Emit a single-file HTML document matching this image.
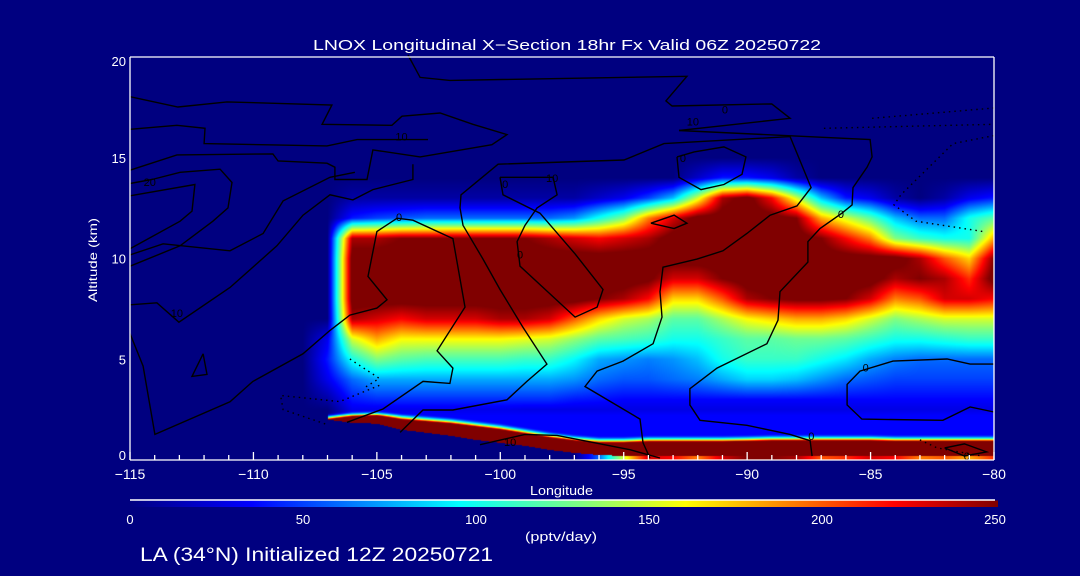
<!DOCTYPE html>
<html><head><meta charset="utf-8"><style>
html,body{margin:0;padding:0;background:#000080;width:1080px;height:576px;overflow:hidden}
#wrap{position:relative;width:1080px;height:576px}
canvas,svg{position:absolute;left:0;top:0}
text{font-family:"Liberation Sans",sans-serif;fill:#fff}
</style></head><body>
<div id="wrap">
<canvas id="cv" width="1080" height="576"></canvas>
<svg id="sv" width="1080" height="576">
<defs><linearGradient id="cbar" x1="0" x2="1" y1="0" y2="0">
<stop offset="0" stop-color="#000080"/><stop offset="0.14" stop-color="#0000ff"/><stop offset="0.38" stop-color="#00ffff"/><stop offset="0.52" stop-color="#80ff80"/><stop offset="0.64" stop-color="#ffff00"/><stop offset="0.88" stop-color="#ff0000"/><stop offset="1" stop-color="#800000"/></linearGradient></defs>
<text x="313" y="50" font-size="15" textLength="508" lengthAdjust="spacingAndGlyphs">LNOX Longitudinal X−Section 18hr  Fx Valid 06Z 20250722</text>
<text transform="translate(97,260) rotate(-90)" text-anchor="middle" font-size="12" textLength="84" lengthAdjust="spacingAndGlyphs">Altitude (km)</text>
<text x="530" y="495" font-size="13" textLength="63" lengthAdjust="spacingAndGlyphs">Longitude</text>
<rect x="130" y="500.5" width="868" height="6.5" fill="url(#cbar)"/>
<line x1="130" y1="500" x2="995" y2="500" stroke="#fff" stroke-width="1.5"/>
<text x="525" y="541" font-size="13" textLength="72" lengthAdjust="spacingAndGlyphs">(pptv/day)</text>
<text x="140" y="561" font-size="19" textLength="353" lengthAdjust="spacingAndGlyphs">LA (34°N) Initialized 12Z 20250721</text>
<g id="contours"></g>
<g id="axes"></g>
</svg>
</div>
<script>
// ---- heatmap data (LNOX, pptv/day) ----
const lons=[-115,-108,-107,-106,-105,-104,-103,-102,-101,-100,-99,-98,-97,-96,-95,-94,-93,-92,-91,-90,-89,-88,-87,-86,-85,-84,-83,-82,-81,-80];
const alts=[2.5,3,4,5,6,7,8,9,10,11,12,13,14,15];
const r25=[0,0,0,30,30,30,30,30,30,30,28,28,28,28,28,28,28,28,28,28,28,28,28,28,28,28,28,28,28,28];
const r3=[0,0,10,40,45,45,45,45,45,45,45,45,40,38,35,35,35,35,35,35,35,35,35,35,35,35,35,35,35,35];
const r4=[0,0,30,60,75,75,75,75,75,75,75,75,70,60,55,55,60,65,75,85,85,80,70,60,55,50,50,50,50,50];
const r5=[0,0,40,100,130,120,115,115,115,115,110,110,95,75,70,65,70,80,100,110,110,110,100,90,75,65,60,60,60,60];
const r6=[0,0,30,150,180,160,160,160,160,160,155,150,135,120,115,110,100,100,110,120,120,125,125,120,110,100,100,105,110,110];
const r7=[0,0,0,240,230,220,230,230,230,240,240,230,200,170,150,140,120,120,140,160,170,180,180,170,150,130,140,150,150,150];
const r8=[0,0,0,260,260,260,260,260,260,260,260,260,260,250,240,220,170,170,200,240,250,255,255,250,230,190,200,230,230,220];
const r9=[0,0,0,260,260,260,260,260,260,260,260,260,260,260,260,255,230,230,250,260,260,260,260,260,260,240,250,240,210,260];
const r10=[0,0,0,260,260,260,260,260,260,260,260,260,260,260,260,260,260,260,260,260,260,260,260,260,260,260,240,200,170,250];
const r11=[0,0,0,240,240,250,250,250,250,250,250,240,230,220,230,240,260,260,260,260,260,260,250,220,190,130,110,100,100,180];
const r12k=[0,0,0,40,50,55,60,60,60,60,60,60,70,100,130,190,230,260,260,260,260,250,180,150,120,80,60,60,100,120];
const r13=[0,0,0,10,10,10,10,10,10,10,10,10,10,20,30,50,80,150,240,260,220,150,80,40,30,10,0,10,30,40];
const r14=[0,0,0,0,0,0,0,0,0,0,0,0,0,0,0,0,0,20,40,40,30,10,0,0,0,0,0,0,0,0];
const r15=[0,0,0,0,0,0,0,0,0,0,0,0,0,0,0,0,0,0,0,0,0,0,0,0,0,0,0,0,0,0];
const grid=[r25,r3,r4,r5,r6,r7,r8,r9,r10,r11,r12k,r13,r14,r15];
// low-level (surface) LNOX band: lower / upper edge altitude (km), value below band, background above band
const bandLo=[2,2,2.0,1.85,1.8,1.5,1.35,1.2,1.0,0.85,0.7,0.5,0.35,0.25,0.2,0.18,0.18,0.18,0.18,0.18,0.18,0.18,0.18,0.18,0.18,0.18,0.18,0.18,0.18,0.18];
const bandHi=[2,2,2.0,2.15,2.2,2.0,1.9,1.8,1.65,1.5,1.3,1.1,0.95,0.85,0.85,0.9,0.9,0.9,0.9,0.92,0.95,0.95,0.95,0.95,0.95,0.92,0.92,0.92,0.92,0.92];
const bandBelow=[0,0,0,0,0,0,0,0,0,0,0,0,0,60,150,230,220,190,230,250,250,240,200,210,230,220,190,200,180,210];
const bandBg=[0,0,0,30,35,35,35,35,35,35,35,35,35,35,35,35,35,35,35,35,35,35,35,35,35,35,35,35,35,35];
const bandPeak=260;

// ---- axis tick data ----
const xMajor=[-115,-110,-105,-100,-95,-90,-85,-80];
const xLabels=["−115","−110","−105","−100","−95","−90","−85","−80"];
const yMajor=[0,5,10,15,20];
const yLabels=["0","5","10","15","20"];
const cbValues=[0,50,100,150,200,250];

// ---- contour data (lon, alt pairs) ----
const cA=[[-115,18.03],[-113.06,17.52],[-111.07,17.77],[-106.82,17.62],[-107.22,16.66],[-104.39,16.61],[-103.98,17.06],[-102.44,17.22],[-101.11,16.66],[-99.73,16.15],[-100.34,15.65],[-103.25,15.04],[-105.16,15.39],[-105.4,13.92],[-106.7,13.92],[-106.7,14.53],[-107.02,14.73],[-109,14.84],[-109.21,15.19],[-113.1,15.14],[-115,14.38]];
const cB=[[-115,16.41],[-113.1,16.61],[-111.96,16.46],[-112,15.7],[-107.02,15.59],[-105.8,15.9],[-102.93,15.9]];
const cC=[[-115,13.72],[-114.11,13.92],[-112.97,14.28],[-111.35,14.43],[-110.87,13.77],[-111.03,12.51],[-111.64,11.85],[-112.97,10.63],[-115,9.62]];
const cD=[[-115,13.11],[-112.37,13.67],[-112.49,12.35],[-112.97,11.85],[-115,10.48]];
const cE=[[-115,10.18],[-113.66,10.73],[-110.95,10.38],[-109.61,11.24],[-108.8,12.86],[-106.9,14.03],[-105.89,14.28]];
const cF=[[-115,7.7],[-113.91,7.8],[-113.02,6.84],[-110.95,8.56],[-109.05,10.63],[-107.99,12.15],[-106.9,13.16],[-105.97,12.91],[-105.16,13.42],[-103.54,13.92],[-103.54,14.68]];
const cG=[[-115,6.28],[-114.47,4.66],[-113.99,1.27],[-110.95,2.89],[-110.02,3.9],[-107.99,5.27],[-106.9,6.43],[-106.09,7.19],[-105,7.54],[-104.59,7.95],[-105.36,9.11],[-105,11.34],[-104.18,12.0],[-103.54,11.9],[-101.92,10.99],[-101.43,7.59],[-102.56,5.42],[-101.92,4.56],[-102.04,3.8],[-103.13,3.9],[-104.75,2.53],[-106.21,1.87]];
const cH=[[-100.01,14.03],[-97.86,14.03],[-97.7,13.16],[-98.51,12.51],[-99,11.65],[-99.32,10.84],[-99.2,9.62],[-96.97,7.09],[-96.08,7.59],[-95.84,8.46],[-96.97,10.23],[-98.39,12.25],[-99.89,13.16],[-100.01,14.03]];
const cI=[[-104.06,1.37],[-103.13,2.48],[-101.92,2.48],[-99.73,2.99],[-98.92,3.9],[-98.11,4.76],[-99.08,6.58],[-100.01,8.46],[-100.7,9.97],[-101.51,11.65],[-101.63,12.51],[-101.59,13.16],[-100.09,14.68],[-94.99,14.89],[-93.37,15.7],[-88.26,16.05],[-87.41,13.52],[-87.98,12.61],[-89.07,12.15],[-90.01,11.24],[-90.98,10.38],[-92.03,9.97],[-93.41,9.57],[-93.53,8.35],[-93.45,7.09],[-93.81,5.77],[-95.03,4.91],[-96.08,4.41],[-96.57,3.65],[-94.34,2.03],[-94.22,0.86],[-93.94,0.1]];
const cJ=[[-92.76,16.35],[-85.02,15.9],[-84.94,15.04],[-85.14,14.53],[-85.71,13.52],[-85.75,12.66],[-86.16,12.25],[-87.05,11.49],[-87.54,10.84],[-87.54,9.82],[-88.67,8.35],[-88.75,6.94],[-89.2,5.77],[-91.22,4.56],[-92.32,3.54],[-92.32,2.73],[-91.91,1.97],[-90.01,1.72],[-88.26,1.27],[-87.45,0.96],[-87.37,0.2]];
const cK=[[-103.74,20.1],[-103.25,18.99],[-102.04,18.84],[-92.44,19.04],[-93.29,17.82],[-93.04,17.57],[-89,17.67],[-88.26,16.96],[-92.76,16.35]];
const cL=[[-92.84,15.04],[-92.76,14.03],[-91.87,13.42],[-90.94,13.67],[-90.21,14.18],[-90.05,15.04],[-90.94,15.54],[-92.15,15.29],[-92.84,15.04]];
const cM=[[-93.9,11.75],[-92.96,12.15],[-92.44,11.75],[-92.96,11.49],[-93.9,11.75]];
const cN=[[-80,4.76],[-80.97,4.76],[-81.9,5.01],[-84.09,4.91],[-85.43,4.41],[-85.95,3.75],[-85.95,2.73],[-85.35,2.03],[-82.07,1.97],[-80.97,2.63],[-80,2.38]];
const cO=[[-100.82,0.76],[-99,1.27],[-97.7,1.22],[-94.75,0.51],[-93.53,0.1]];
const cP=[[-112.04,5.27],[-112.49,4.15],[-111.88,4.25],[-112.04,5.27]];
const cQ=[[-82,0.6],[-81.2,0.8],[-80.3,0.4],[-81.2,0.2],[-82,0.6]];
const solidContours=[cA,cB,cC,cD,cE,cF,cG,cH,cI,cJ,cK,cL,cM,cN,cO,cP,cQ];
const dA=[[-84.94,16.96],[-80,17.47]];
const dB=[[-86.89,16.46],[-80,16.66]];
const dC=[[-80,16.1],[-81.66,15.7],[-83.77,13.16],[-84.05,12.66],[-83.16,11.85],[-80.45,11.34]];
const dD=[[-106.09,5.01],[-104.9,4.05],[-105.56,3.54]];
const dE=[[-104.9,3.7],[-106.5,2.9],[-108.9,3.2],[-108.8,2.5],[-107.0,1.75]];
const dF=[[-83,1.0],[-82.3,0.6],[-80.5,0.2]];
const dottedContours=[dA,dB,dC,dD,dE,dF];
const labelText=["20","10","10","0","0","0","10","10","0","0","0","0","10","0","0"];
const labelLon=[-114.2,-104,-113.1,-104.1,-99.8,-99.2,-97.9,-92.2,-92.6,-90.9,-86.2,-85.2,-99.6,-87.4,-81.1];
const labelAlt=[13.8,16.05,7.3,12.05,13.7,10.2,14.0,16.8,15.0,17.4,12.2,4.6,0.9,1.2,0.2];

// ---- axes ----
const L=130,R=994,T=57,B=460;
function X(lon){return L+(lon+115)*(R-L)/35;}
function Y(alt){return B-alt*(B-T)/20;}
const NS="http://www.w3.org/2000/svg";

const cstops=[[0,0,0,128],[0.14,0,0,255],[0.38,0,255,255],[0.52,128,255,128],[0.64,255,255,0],[0.88,255,0,0],[1,128,0,0]];
function cmap(v){let t=Math.max(0,Math.min(1,v/250));for(let i=0;i<cstops.length-1;i++){const a=cstops[i],b=cstops[i+1];if(t<=b[0]){const f=(t-a[0])/(b[0]-a[0]);return [a[1]+(b[1]-a[1])*f,a[2]+(b[2]-a[2])*f,a[3]+(b[3]-a[3])*f];}}return [128,0,0];}
function idx(arr,v){if(v<=arr[0])return [0,0];if(v>=arr[arr.length-1])return [arr.length-2,1];for(let i=0;i<arr.length-1;i++){if(v<=arr[i+1])return [i,(v-arr[i])/(arr[i+1]-arr[i])];}}
function lerpArr(arr,i,f){return arr[i]*(1-f)+arr[i+1]*f;}
function gridVal(lon,alt){const [i,fx]=idx(lons,lon),[j,fy]=idx(alts,alt);
const a=grid[j][i],b=grid[j][i+1],c=grid[j+1][i],d=grid[j+1][i+1];return (a*(1-fx)+b*fx)*(1-fy)+(c*(1-fx)+d*fx)*fy;}
function lowVal(lon,alt){const [i,f]=idx(lons,lon);const lo=lerpArr(bandLo,i,f),hi=lerpArr(bandHi,i,f),bg=lerpArr(bandBg,i,f),bl=lerpArr(bandBelow,i,f);
 const w=hi-lo;
 if(w<=0.005)return bg*Math.min(1,alt/2);
 if(alt<lo)return bl;
 if(alt<=hi)return bandPeak;
 const d=alt-hi;const k=Math.max(0,1-d/0.35);return bg+(bandPeak-bg)*k*k;}
function val(lon,alt){if(alt>alts[alts.length-1])return 0;if(alt>=2.5)return gridVal(lon,alt);
 const lv=lowVal(lon,alt);if(alt>2.2){const f=(alt-2.2)/0.3;return lv*(1-f)+gridVal(lon,2.5)*f;}return lv;}
(function(){const cv=document.getElementById('cv'),ctx=cv.getContext('2d');const w=R-L,h=B-T;const img=ctx.createImageData(w,h);
for(let py=0;py<h;py++){const alt=(B-(T+py+0.5))*20/(B-T);for(let px=0;px<w;px++){const lon=-115+(px+0.5)*35/w;const c=cmap(val(lon,alt));const k=(py*w+px)*4;img.data[k]=c[0];img.data[k+1]=c[1];img.data[k+2]=c[2];img.data[k+3]=255;}}
ctx.putImageData(img,L,T);})();

const cg=document.getElementById('contours');
function pts(c){return c.map(p=>X(p[0]).toFixed(1)+','+Y(p[1]).toFixed(1)).join(' ');}
solidContours.forEach(c=>{const pl=document.createElementNS(NS,'polyline');pl.setAttribute('points',pts(c));pl.setAttribute('fill','none');pl.setAttribute('stroke','#000');pl.setAttribute('stroke-width','1.4');


cg.appendChild(pl);});
dottedContours.forEach(c=>{const pl=document.createElementNS(NS,'polyline');pl.setAttribute('points',pts(c));pl.setAttribute('fill','none');pl.setAttribute('stroke','#000');pl.setAttribute('stroke-width','1.4');pl.setAttribute('stroke-dasharray','1.5 4');


cg.appendChild(pl);});
labelText.forEach((t,i)=>{const tx=document.createElementNS(NS,'text');tx.setAttribute('x',X(labelLon[i]));tx.setAttribute('y',Y(labelAlt[i])+4);tx.setAttribute('font-size','11');tx.setAttribute('text-anchor','middle');tx.setAttribute('style','fill:#000');tx.textContent=t;


cg.appendChild(tx);});

const ag=document.getElementById('axes');
function line(x1,y1,x2,y2,name){const l=document.createElementNS(NS,'line');l.setAttribute('x1',x1);l.setAttribute('y1',y1);l.setAttribute('x2',x2);l.setAttribute('y2',y2);l.setAttribute('stroke','#fff');l.setAttribute('stroke-width','1.3');


ag.appendChild(l);}
line(L,T,R,T,'plot-top-border');line(R,T,R,B,'plot-right-border');line(L,B,R,B,'x-axis-line');line(L,T,L,B,'y-axis-line');
for(let lon=-115;lon<=-80;lon++){const major=xMajor.indexOf(lon)>=0;line(X(lon),B,X(lon),B-(major?8:5),'x-tick');}
xMajor.forEach((v,i)=>{const t=document.createElementNS(NS,'text');t.setAttribute('x',X(v));t.setAttribute('y',B+19);t.setAttribute('text-anchor','middle');t.setAttribute('font-size','14');t.textContent=xLabels[i];


ag.appendChild(t);});
yMajor.forEach((v,i)=>{const t=document.createElementNS(NS,'text');t.setAttribute('x',L-4);t.setAttribute('y',Math.min(Math.max(Y(v)+5,66),460));t.setAttribute('text-anchor','end');t.setAttribute('font-size','13');t.textContent=yLabels[i];


ag.appendChild(t);});
cbValues.forEach(v=>{const t=document.createElementNS(NS,'text');t.setAttribute('x',130+v*(995-130)/250);t.setAttribute('y',524);t.setAttribute('text-anchor','middle');t.setAttribute('font-size','13');t.textContent=String(v);


ag.appendChild(t);});
</script>
</body></html>
